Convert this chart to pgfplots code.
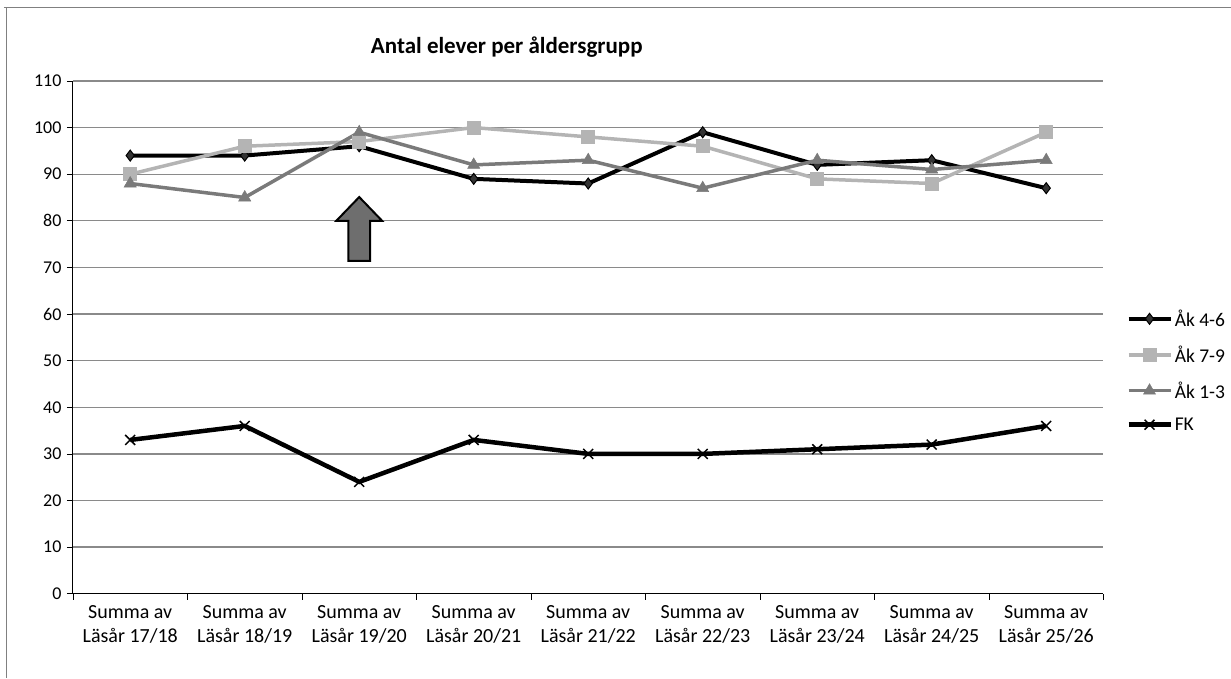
\documentclass[border=0pt]{standalone}
\usepackage{fontspec}
\setmainfont{Carlito}
\usepackage{pgfplots}
\pgfplotsset{compat=1.18}

\definecolor{gridgray}{HTML}{8A8A8A}
\definecolor{lightser}{HTML}{B4B4B4}
\definecolor{midser}{HTML}{7A7A7A}
\definecolor{arrowfill}{HTML}{6E6E6E}

\begin{document}
\begin{tikzpicture}
  % page area
  \path (0,0) rectangle (1231bp,678bp);
  % frame (top and left only)
  \draw[gray, line width=1bp] (4bp,670bp) -- (1231bp,670bp);
  \draw[gray, line width=1bp] (7bp,670bp) -- (7bp,0bp);

  \node[font=\fontsize{23bp}{27bp}\selectfont\bfseries] at (507bp,631bp) {Antal elever per åldersgrupp};

  \begin{axis}[
      at={(73bp,84bp)}, anchor=south west,
      scale only axis,
      width=1031bp, height=513bp,
      xmin=-0.5, xmax=8.5,
      ymin=0, ymax=110,
      ytick={0,10,...,110},
      xtick={0,...,8},
      xticklabels={{Summa av\\Läsår 17/18},{Summa av\\Läsår 18/19},{Summa av\\Läsår 19/20},
                   {Summa av\\Läsår 20/21},{Summa av\\Läsår 21/22},{Summa av\\Läsår 22/23},
                   {Summa av\\Läsår 23/24},{Summa av\\Läsår 24/25},{Summa av\\Läsår 25/26}},
      minor xtick={-0.5,0.5,...,8.5},
      major x tick style={draw=none},
      minor tick length=6bp,
      major tick length=6bp,
      tick align=outside,
      tick style={black, line width=0.8bp},
      axis x line*=bottom,
      axis y line*=left,
      axis line style={black, line width=1bp},
      ymajorgrids,
      grid style={gridgray, line width=1.3bp},
      /pgf/number format/assume math mode=true,
      yticklabel style={font=\fontsize{18bp}{21bp}\selectfont, xshift=-2bp},
      xticklabel style={font=\fontsize{20bp}{24bp}\selectfont, align=center, yshift=-2bp},
      legend style={at={(1.02,0.558)}, anchor=north west, draw=none, fill=none,
                    font=\fontsize{19.5bp}{22bp}\selectfont, row sep=14bp,
                    inner xsep=2bp, inner ysep=0bp},
      legend cell align=left,
      legend image code/.code={
        \draw[mark repeat=2, mark phase=2, #1] plot coordinates {(0bp,0bp) (21bp,0bp) (42bp,0bp)};
      },
    ]
    \addplot[black, line width=4bp, mark=diamond*, mark size=5.5bp,
             mark options={fill=black!80, draw=black, line width=1bp}]
      coordinates {(0,94) (1,94) (2,96) (3,89) (4,88) (5,99) (6,92) (7,93) (8,87)};
    \addlegendentry{Åk 4-6}

    \addplot[lightser, line width=3.5bp, mark=square*, mark size=6.5bp,
             mark options={fill=lightser, draw=lightser, line width=0.5bp}]
      coordinates {(0,90) (1,96) (2,97) (3,100) (4,98) (5,96) (6,89) (7,88) (8,99)};
    \addlegendentry{Åk 7-9}

    \addplot[midser, line width=3.5bp, mark=triangle*, mark size=7bp,
             mark options={fill=midser, draw=midser, line width=0.5bp}]
      coordinates {(0,88) (1,85) (2,99) (3,92) (4,93) (5,87) (6,93) (7,91) (8,93)};
    \addlegendentry{Åk 1-3}

    \addplot[black, line width=4.5bp, mark=x, mark size=7bp,
             mark options={line width=1.5bp, black}]
      coordinates {(0,33) (1,36) (2,24) (3,33) (4,30) (5,30) (6,31) (7,32) (8,36)};
    \addlegendentry{FK}

    % block arrow annotation
    \draw[black, line width=2bp, fill=arrowfill]
      (axis cs:1.905,71.4) -- (axis cs:1.905,80) -- (axis cs:1.8,80) -- (axis cs:2,85.1)
      -- (axis cs:2.2,80) -- (axis cs:2.095,80) -- (axis cs:2.095,71.4) -- cycle;
  \end{axis}
\end{tikzpicture}
\end{document}
